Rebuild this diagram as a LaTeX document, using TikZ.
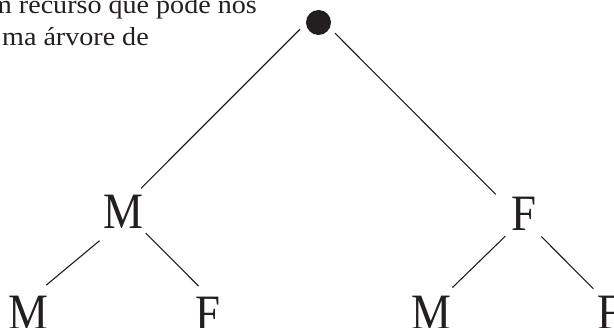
\documentclass[tikz,border=0pt]{standalone}
\usepackage{fontspec}
\setmainfont{Liberation Serif}
\newfontfamily\pagefont[FakeStretch=1.08]{Liberation Serif}
\newfontfamily\treefont[FakeStretch=0.88]{Liberation Serif}
\usetikzlibrary{positioning}
\definecolor{ink}{HTML}{231F20}
\tikzset{
  leaf/.style={circle, minimum size=58pt, inner sep=0pt, outer sep=0pt,
    text height=33.4pt, text depth=0pt, text=ink,
    font=\treefont\fontsize{51}{51}\selectfont}
}
\tikzset{
  branch/.style={draw=ink, line width=1.1pt}
}
\tikzset{
  pagetext/.style={font=\pagefont\fontsize{26}{32}\selectfont, text=ink, inner sep=0pt}
}

\begin{document}
\begin{tikzpicture}[x=1pt, y=-1pt]
  \useasboundingbox (0,0) rectangle (614,328);
  \clip (0,0) rectangle (614,328);
  % running text, cut by the frame
  \node[pagetext, anchor=base east] (line1) at (257,13.5) {m recurso que pode nos};
  \node[pagetext, anchor=base west] (line2) at (2,46) {ma árvore de};
  % tree
  \node[circle, fill=ink, minimum size=25pt, inner sep=0pt, outer sep=7.2pt] (root) at (318.5,22.5) {};
  \node[leaf] (m) at (123.5,211.5) {M};
  \node[leaf] (f) at (523.5,213.7) {F};
  \node[leaf] (mm) at (28.3,312.5) {M};
  \node[leaf] (mf) at (208,313.5) {F};
  \node[leaf] (fm) at (431.7,312.5) {M};
  \node[leaf] (ff) at (610,312.5) {F};
  \draw[branch] (root.200) -- (m.53);
  \draw[branch, shorten >=5pt] (root.327) -- (f.147);
  \draw[branch, shorten <=9pt, shorten >=4pt] (m.234) -- (mm.59);
  \draw[branch, shorten <=2pt] (m.316) -- (mf.109);
  \draw[branch, shorten >=3.5pt] (f.231) -- (fm.51);
  \draw[branch] (f.308) -- (ff.125);
\end{tikzpicture}
\end{document}
